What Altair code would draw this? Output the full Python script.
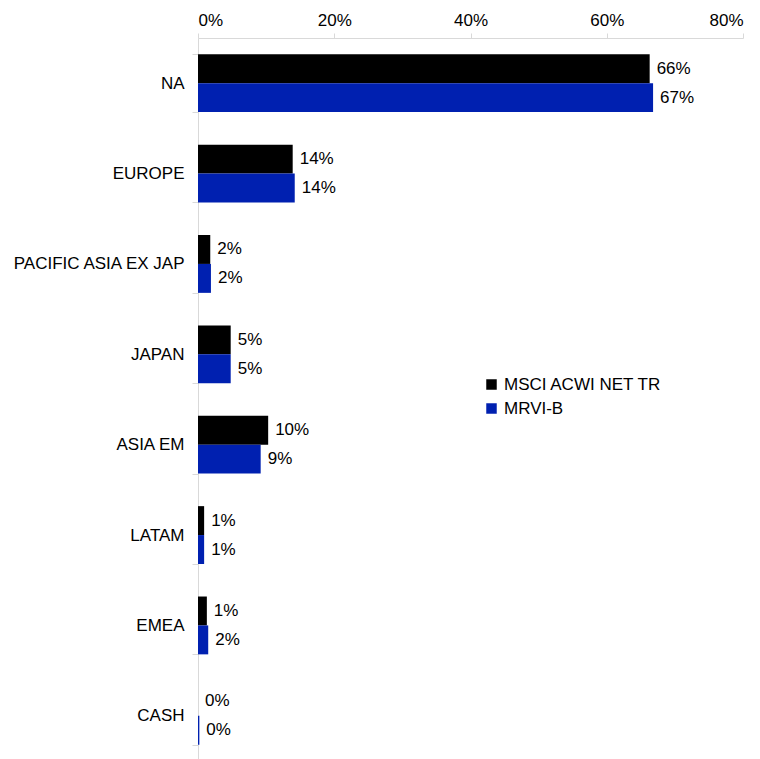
import altair as alt
import pandas as pd

regions = ["NA", "EUROPE", "PACIFIC ASIA EX JAP", "JAPAN", "ASIA EM", "LATAM", "EMEA", "CASH"]
msci = [66.3, 13.9, 1.8, 4.8, 10.3, 0.9, 1.3, 0.0]
mrvi = [66.8, 14.2, 1.9, 4.8, 9.2, 0.9, 1.5, 0.2]
series = ["MSCI ACWI NET TR", "MRVI-B"]
colors = ["#000000", "#0020B0"]

rows = []
for r, a, b in zip(regions, msci, mrvi):
    rows.append({"region": r, "series": series[0], "value": a / 100})
    rows.append({"region": r, "series": series[1], "value": b / 100})
df = pd.DataFrame(rows)

FONT = "Liberation Sans"
FS = 17

y = alt.Y("region:N", sort=regions, title=None,
          scale=alt.Scale(paddingInner=0.36, paddingOuter=0.18),
          axis=alt.Axis(tickBand="extent", labelFontSize=FS, labelColor="#000000",
                        labelFont=FONT, domainColor="#D9D9D9", tickColor="#D9D9D9",
                        tickSize=6, labelPadding=8))
yoff = alt.YOffset("series:N", sort=series, scale=alt.Scale(paddingInner=0, paddingOuter=0))

base = alt.Chart(df).encode(y=y, yOffset=yoff)

bars = base.mark_bar().encode(
    x=alt.X("value:Q", title=None,
            scale=alt.Scale(domain=[0, 0.8]),
            axis=alt.Axis(orient="top", format=".0%", values=[0, 0.2, 0.4, 0.6, 0.8],
                          grid=False, labelFontSize=FS, labelColor="#000000", labelFont=FONT,
                          domainColor="#D9D9D9", tickColor="#D9D9D9", tickSize=5,
                          labelPadding=4)),
    color=alt.Color("series:N", sort=series,
                    scale=alt.Scale(domain=series, range=colors),
                    legend=alt.Legend(title=None, orient="none", legendX=285, legendY=338,
                                      symbolType="square", symbolSize=110,
                                      labelFontSize=FS, labelFont=FONT, labelColor="#000000",
                                      rowPadding=6, symbolStrokeWidth=0)),
)

texts = base.mark_text(align="left", baseline="middle", dx=7, fontSize=FS,
                       font=FONT, color="#000000").encode(
    x=alt.X("value:Q"),
    text=alt.Text("value:Q", format=".0%"),
)

chart = (bars + texts).properties(width=545, height=723, padding={"left": 3, "top": 3, "right": 5, "bottom": 5}).configure_view(stroke=None)

chart.save("out.html", embed_options={"renderer": "svg", "actions": False})
